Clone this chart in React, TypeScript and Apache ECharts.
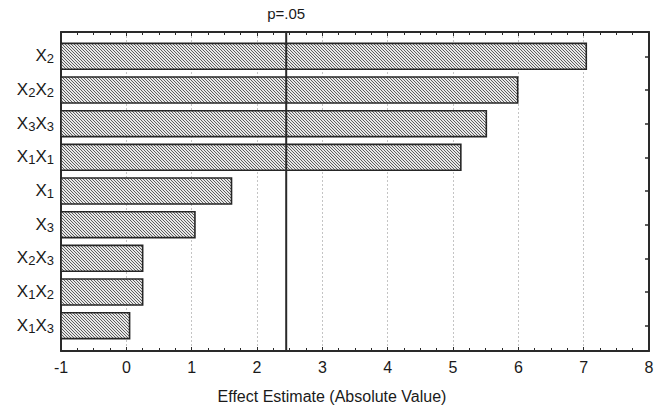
import React, { useEffect, useRef } from "react";
import * as echarts from "echarts";

// ---- data ----
const categories = ["X2", "X2X2", "X3X3", "X1X1", "X1", "X3", "X2X3", "X1X2", "X1X3"];
const effects = [7.04, 5.99, 5.51, 5.12, 1.61, 1.05, 0.25, 0.25, 0.05];
const pValue = 2.447;
const pLabel = "p=.05";
const xMin = -1;
const xMax = 8;
const xInterval = 1;
const axisTitle = "Effect Estimate (Absolute Value)";

const FONT = "Liberation Sans, Arial, Helvetica, sans-serif";
const INK = "#1a1a1a";

function toRich(label: string): string {
  return label.replace(/X(\d)/g, "{x|X}{s|$1}");
}

function makeHatch(): HTMLCanvasElement {
  const c = document.createElement("canvas");
  c.width = 3;
  c.height = 3;
  const g = c.getContext("2d")!;
  g.fillStyle = "#e8e8e8";
  g.fillRect(0, 0, 3, 3);
  g.strokeStyle = "#5e5e5e";
  g.lineWidth = 1;
  g.beginPath();
  g.moveTo(-1, -1);
  g.lineTo(4, 4);
  g.moveTo(-1, 2);
  g.lineTo(1, 4);
  g.moveTo(2, -1);
  g.lineTo(4, 1);
  g.stroke();
  return c;
}

export default function App() {
  const ref = useRef<HTMLDivElement>(null);

  useEffect(() => {
    document.body.style.margin = "0";
    const chart = echarts.init(ref.current!, null, { renderer: "svg" });
    const hatch = makeHatch();
    const frameLine = { show: true, onZero: false, lineStyle: { color: "#2a2a2a", width: 2 } };
    const outer = { left: 61, right: 11, top: 32, bottom: 56 };
    const inner = { left: 61, right: 11, top: 39.5, bottom: 64.5 };

    chart.setOption({
      animation: false,
      backgroundColor: "#ffffff",
      textStyle: { fontFamily: FONT },
      grid: [
        { ...outer, containLabel: false, outerBoundsMode: "none" },
        { ...inner, containLabel: false, outerBoundsMode: "none" },
      ],
      xAxis: [
        {
          type: "value",
          gridIndex: 0,
          position: "bottom",
          min: xMin,
          max: xMax,
          interval: xInterval,
          axisLine: frameLine,
          axisTick: { show: true, inside: true, length: 4, lineStyle: { color: "#2a2a2a" } },
          minorTick: { show: true, splitNumber: 4, length: 3, lineStyle: { color: "#2a2a2a" } },
          axisLabel: { color: INK, fontSize: 16, margin: 8, fontFamily: FONT },
          splitLine: { show: true, lineStyle: { color: "#c4c4c4", type: [2, 2], width: 1 } },
          name: axisTitle,
          nameLocation: "middle",
          nameGap: 37,
          nameTextStyle: { color: INK, fontSize: 16, fontFamily: FONT, padding: [0, 46, 0, 0] },
        },
        {
          type: "value",
          gridIndex: 0,
          position: "top",
          min: xMin,
          max: xMax,
          interval: xInterval,
          axisLine: frameLine,
          axisTick: { show: true, inside: true, length: 4, lineStyle: { color: "#2a2a2a" } },
          minorTick: { show: true, splitNumber: 4, length: 3, lineStyle: { color: "#2a2a2a" } },
          axisLabel: { show: false },
          splitLine: { show: false },
        },
        {
          type: "value",
          gridIndex: 1,
          min: xMin,
          max: xMax,
          interval: xInterval,
          show: false,
        },
      ],
      yAxis: [
        {
          type: "value",
          gridIndex: 0,
          position: "left",
          min: 0,
          max: 1,
          axisLine: frameLine,
          axisTick: { show: false },
          axisLabel: { show: false },
          splitLine: { show: false },
        },
        {
          type: "value",
          gridIndex: 0,
          position: "right",
          min: 0,
          max: 1,
          axisLine: frameLine,
          axisTick: { show: false },
          axisLabel: { show: false },
          splitLine: { show: false },
        },
        {
          type: "category",
          gridIndex: 1,
          position: "left",
          inverse: true,
          data: categories,
          axisLine: { show: false, onZero: false },
          axisTick: { show: true, inside: true, alignWithLabel: true, length: 4, lineStyle: { color: "#2a2a2a", width: 1.5 } },
          axisLabel: {
            margin: 7,
            formatter: (v: string) => toRich(v),
            rich: {
              x: { fontSize: 17, lineHeight: 18, verticalAlign: "top", color: INK, fontFamily: FONT },
              s: { fontSize: 13, lineHeight: 13, padding: [9, 0, 0, 0], verticalAlign: "bottom", color: INK, fontFamily: FONT },
            },
          },
          splitLine: { show: false },
        },
        {
          type: "category",
          gridIndex: 1,
          position: "right",
          inverse: true,
          data: categories,
          axisLine: { show: false, onZero: false },
          axisTick: { show: true, inside: true, alignWithLabel: true, length: 4, lineStyle: { color: "#2a2a2a", width: 1.5 } },
          axisLabel: { show: false },
          splitLine: { show: false },
        },
      ],
      series: [
        {
          type: "custom",
          xAxisIndex: 2,
          yAxisIndex: 2,
          encode: { x: 0, y: 1 },
          data: effects.map((v, i) => [v, i]),
          renderItem: (params: any, api: any) => {
            const v = api.value(0);
            const idx = api.value(1);
            const p0 = api.coord([xMin, idx]);
            const p1 = api.coord([v, idx]);
            const band = api.size([0, 1])[1];
            const h = band * 0.77;
            return {
              type: "rect",
              shape: { x: p0[0], y: p0[1] - h / 2, width: p1[0] - p0[0], height: h },
              style: {
                fill: { image: hatch, repeat: "repeat" },
                stroke: "#262626",
                lineWidth: 1.6,
              },
            };
          },
          z: 3,
        },
        {
          type: "line",
          xAxisIndex: 0,
          yAxisIndex: 0,
          symbol: "circle",
          symbolSize: 0,
          showSymbol: true,
          lineStyle: { color: "#2a2a2a", width: 2 },
          itemStyle: { color: "#2a2a2a" },
          data: [
            [pValue, 0],
            {
              value: [pValue, 1],
              label: {
                show: true,
                position: "top",
                distance: 11,
                formatter: pLabel,
                color: INK,
                fontSize: 15,
                fontFamily: FONT,
              },
            },
          ],
          z: 5,
          silent: true,
        },
      ],
    });
    return () => chart.dispose();
  }, []);

  return <div ref={ref} style={{ width: 660, height: 407 }} />;
}
